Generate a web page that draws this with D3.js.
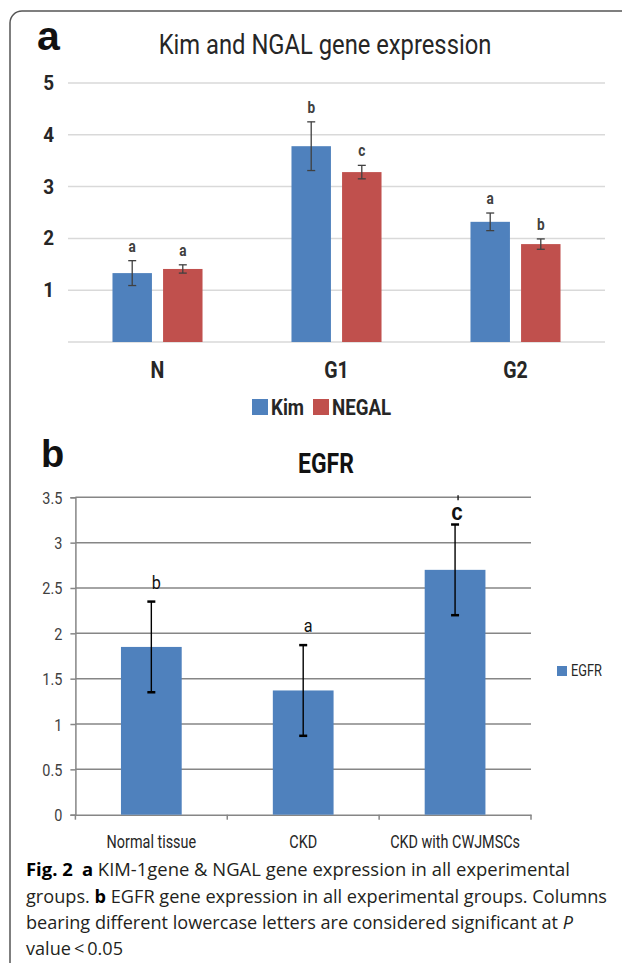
<!DOCTYPE html>
<html lang="en">
<head>
  <meta charset="UTF-8" />
  <title>Fig. 2 – Kim/NGAL and EGFR gene expression</title>
  <style>
    html, body { margin: 0; padding: 0; background: #fff; }
    svg { display: block; }
    .cond { font-family: "Roboto", "Liberation Sans", sans-serif; }
    .cap { font-family: "Open Sans", "Noto Sans", sans-serif; fill: #231f20; }
  </style>
</head>
<body>
  <script src="https://d3js.org/d3.v7.min.js"></script>
  <script>
    // Panel a data
    const groupsA = ['N', 'G1', 'G2'];
    const kimVals = [1.33, 3.78, 2.32];
    const kimErr = [0.24, 0.47, 0.17];
    const ngalVals = [1.41, 3.28, 1.89];
    const ngalErr = [0.08, 0.13, 0.10];
    const kimLetters = ['a', 'b', 'a'];
    const ngalLetters = ['a', 'c', 'b'];
    const gridA = [0, 1, 2, 3, 4, 5];
    const tickLabelsA = [1, 2, 3, 4, 5];
    const seriesA = ['Kim', 'NEGAL'];

    // Panel b data
    const groupsB = ['Normal tissue', 'CKD', 'CKD with CWJMSCs'];
    const egfrVals = [1.85, 1.37, 2.70];
    const egfrErr = [0.50, 0.50, 0.50];
    const egfrLetters = ['b', 'a', 'c'];
    const ticksB = [0, 0.5, 1, 1.5, 2, 2.5, 3, 3.5];

    const BLUE = '#4f81bd', RED = '#c0504d';

    // squeeze text horizontally (Calibri-like narrow look)
    function squeeze(sel, sx) {
      sel.each(function() {
        const t = d3.select(this);
        const x = +t.attr('x') || 0, y = +t.attr('y') || 0;
        t.attr('x', 0).attr('y', 0)
          .attr('transform', `translate(${x},${y}) scale(${sx},1)`);
      });
    }

    const svg = d3.select('body').append('svg')
      .attr('width', 622)
      .attr('height', 966);

    // frame (rounded top-left, open at bottom and right)
    svg.append('path')
      .attr('d', 'M10,963 V23 A12,12 0 0 1 22,11 H622')
      .attr('fill', 'none')
      .attr('stroke', '#555')
      .attr('stroke-width', 1.5);

    // ---------- Panel a ----------
    const a = svg.append('g');
    const yA = d3.scaleLinear().domain([0, 5]).range([342, 83]);
    const xA = d3.scaleBand().domain(groupsA).range([68, 605])
      .paddingInner(0.497).paddingOuter(0.2485);
    const xA1 = d3.scaleBand().domain(seriesA).range([0, xA.bandwidth()]).paddingInner(0.22);

    a.append('text').text('a')
      .attr('x', 37).attr('y', 50)
      .attr('font-family', 'Liberation Sans, Arial, sans-serif')
      .attr('font-weight', 'bold').attr('font-size', 41).attr('fill', '#111');

    a.append('text').text('Kim and NGAL gene expression')
      .attr('class', 'cond')
      .attr('x', 325).attr('y', 54)
      .attr('text-anchor', 'middle')
      .attr('font-size', 27).attr('fill', '#262626')
      .call(squeeze, 0.88);

    a.append('g').selectAll('line').data(gridA).join('line')
      .attr('x1', 68).attr('x2', 605)
      .attr('y1', d => yA(d)).attr('y2', d => yA(d))
      .attr('stroke', '#d9d9d9').attr('stroke-width', 1.5);

    a.append('g').selectAll('text').data(tickLabelsA).join('text')
      .attr('class', 'cond')
      .attr('x', 54).attr('y', d => yA(d) + 7)
      .attr('text-anchor', 'end')
      .attr('font-weight', 'bold').attr('font-size', 21).attr('fill', '#262626')
      .text(d => d)
      .call(squeeze, 0.9);

    const rowsA = groupsA.map((g, i) => [
      { g, s: 'Kim', v: kimVals[i], e: kimErr[i], l: kimLetters[i], c: BLUE },
      { g, s: 'NEGAL', v: ngalVals[i], e: ngalErr[i], l: ngalLetters[i], c: RED }
    ]).flat();

    const barA = a.append('g').selectAll('g').data(rowsA).join('g')
      .attr('transform', d => `translate(${xA(d.g) + xA1(d.s)},0)`);

    barA.append('rect')
      .attr('x', 0).attr('width', xA1.bandwidth())
      .attr('y', d => yA(d.v)).attr('height', d => yA(0) - yA(d.v))
      .attr('fill', d => d.c);

    const cx = xA1.bandwidth() / 2;
    barA.append('line')
      .attr('x1', cx).attr('x2', cx)
      .attr('y1', d => yA(d.v + d.e)).attr('y2', d => yA(d.v - d.e))
      .attr('stroke', '#404040').attr('stroke-width', 1.3);
    barA.selectAll('.cap').data(d => [d.v + d.e, d.v - d.e]).join('line')
      .attr('x1', cx - 4).attr('x2', cx + 4)
      .attr('y1', d => yA(d)).attr('y2', d => yA(d))
      .attr('stroke', '#404040').attr('stroke-width', 1.3);

    barA.append('text')
      .attr('class', 'cond')
      .attr('x', cx).attr('y', d => yA(d.v + d.e) - 9)
      .attr('text-anchor', 'middle')
      .attr('font-weight', 'bold').attr('font-size', 16).attr('fill', '#404040')
      .text(d => d.l)
      .call(squeeze, 0.85);

    a.append('g').selectAll('text').data(groupsA).join('text')
      .attr('class', 'cond')
      .attr('x', d => xA(d) + xA.bandwidth() / 2).attr('y', 378)
      .attr('text-anchor', 'middle')
      .attr('font-weight', 'bold').attr('font-size', 23).attr('fill', '#262626')
      .text(d => d)
      .call(squeeze, 0.85);

    // legend a
    const legA = a.append('g').attr('transform', 'translate(252,399)');
    const legItems = [{ s: 'Kim', c: BLUE, x: 0 }, { s: 'NEGAL', c: RED, x: 61 }];
    const li = legA.selectAll('g').data(legItems).join('g')
      .attr('transform', d => `translate(${d.x},0)`);
    li.append('rect').attr('width', 16).attr('height', 16).attr('fill', d => d.c);
    li.append('text')
      .attr('class', 'cond')
      .attr('x', 19).attr('y', 16)
      .attr('font-weight', 'bold').attr('font-size', 22).attr('fill', '#262626')
      .text(d => d.s)
      .call(squeeze, 0.85);

    // ---------- Panel b ----------
    const b = svg.append('g');
    const yB = d3.scaleLinear().domain([0, 3.5]).range([814.7, 497.3]);
    const xB = d3.scaleBand().domain(groupsB).range([75.4, 531])
      .paddingInner(0.6).paddingOuter(0.3);

    b.append('text').text('b')
      .attr('x', 41).attr('y', 467)
      .attr('font-family', 'Liberation Sans, Arial, sans-serif')
      .attr('font-weight', 'bold').attr('font-size', 38).attr('fill', '#111');

    b.append('text').text('EGFR')
      .attr('class', 'cond')
      .attr('x', 326).attr('y', 473)
      .attr('text-anchor', 'middle')
      .attr('font-weight', 'bold').attr('font-size', 27).attr('fill', '#111')
      .call(squeeze, 0.85);

    b.append('g').selectAll('line').data(ticksB.filter(t => t > 0)).join('line')
      .attr('x1', 75.4).attr('x2', 531)
      .attr('y1', d => yB(d)).attr('y2', d => yB(d))
      .attr('stroke', '#868686').attr('stroke-width', 1.5);

    const axisL = b.append('g')
      .attr('transform', 'translate(75.4,0)')
      .call(d3.axisLeft(yB).tickValues(ticksB).tickSize(5).tickPadding(0)
        .tickFormat(d3.format('')));
    axisL.select('.domain').attr('stroke', '#868686').attr('stroke-width', 1.5);
    axisL.selectAll('.tick line').attr('stroke', '#868686').attr('stroke-width', 1.5);
    axisL.selectAll('.tick text')
      .attr('class', 'cond')
      .attr('font-size', 17).attr('fill', '#404040')
      .attr('dy', null).attr('y', 6)
      .attr('x', -13)
      .call(squeeze, 0.85);

    const axisBot = b.append('g')
      .attr('transform', `translate(0,${yB(0)})`)
      .call(d3.axisBottom(xB).tickSize(0).tickPadding(0));
    axisBot.select('.domain').attr('stroke', '#868686').attr('stroke-width', 1.5);
    axisBot.selectAll('.tick text')
      .attr('class', 'cond')
      .attr('font-size', 18).attr('fill', '#262626')
      .attr('dy', null).attr('y', 33)
      .call(squeeze, 0.8);
    // category separators
    const seps = [...groupsB.map(g => xB(g) - xB.step() * xB.paddingInner() / 2), 531];
    b.append('g').selectAll('line').data(seps).join('line')
      .attr('x1', d => d).attr('x2', d => d)
      .attr('y1', yB(0)).attr('y2', yB(0) + 5)
      .attr('stroke', '#868686').attr('stroke-width', 1.5);

    const rowsB = groupsB.map((g, i) => ({ g, v: egfrVals[i], e: egfrErr[i], l: egfrLetters[i] }));
    const barB = b.append('g').selectAll('g').data(rowsB).join('g')
      .attr('transform', d => `translate(${xB(d.g)},0)`);
    barB.append('rect')
      .attr('width', xB.bandwidth())
      .attr('y', d => yB(d.v)).attr('height', d => yB(0) - yB(d.v))
      .attr('fill', BLUE);
    const cb = xB.bandwidth() / 2;
    barB.append('line')
      .attr('x1', cb).attr('x2', cb)
      .attr('y1', d => yB(d.v + d.e)).attr('y2', d => yB(d.v - d.e))
      .attr('stroke', '#000').attr('stroke-width', 1.4);
    barB.selectAll('.cap').data(d => [d.v + d.e, d.v - d.e]).join('line')
      .attr('x1', cb - 4).attr('x2', cb + 4)
      .attr('y1', d => yB(d)).attr('y2', d => yB(d))
      .attr('stroke', '#000').attr('stroke-width', 2.5);
    barB.append('text')
      .attr('class', d => d.l === 'c' ? null : 'cond')
      .attr('font-family', d => d.l === 'c' ? 'Liberation Sans, Arial, sans-serif' : null)
      .attr('x', d => d.l === 'c' ? cb + 2 : cb + 5)
      .attr('y', d => yB(d.v + d.e) - (d.l === 'c' ? 5 : 13))
      .attr('text-anchor', 'middle')
      .attr('font-size', d => d.l === 'c' ? 23 : 18)
      .attr('font-weight', d => d.l === 'c' ? 'bold' : null)
      .attr('fill', '#111')
      .text(d => d.l)
      .call(squeeze, 0.9);
    // small mark above "c"
    barB.filter(d => d.l === 'c').append('line')
      .attr('x1', cb + 3).attr('x2', cb + 3)
      .attr('y1', yB(3.5) - 2).attr('y2', yB(3.5) + 3)
      .attr('stroke', '#222').attr('stroke-width', 1.5);

    // legend b
    const legB = b.append('g').attr('transform', 'translate(557,666)');
    legB.append('rect').attr('width', 10).attr('height', 10).attr('fill', BLUE);
    legB.append('text').attr('class', 'cond')
      .attr('x', 14).attr('y', 10)
      .attr('font-size', 16).attr('fill', '#262626')
      .text('EGFR')
      .call(squeeze, 0.8);

    // ---------- Caption ----------
    const capLines = [
      { y: 876, w: 544, parts: [['Fig. 2', 'bold'], ['\u2002', null], ['a', 'bold'], [' KIM-1gene & NGAL gene expression in all experimental', null]] },
      { y: 903, w: 581, parts: [['groups. ', null], ['b', 'bold'], [' EGFR gene expression in all experimental groups. Columns', null]] },
      { y: 929, w: 547, parts: [['bearing different lowercase letters are considered significant at ', null], ['P', 'italic']] },
      { y: 955, w: 97, parts: [['value\u2009<\u20090.05', null]] }
    ];
    const cap = svg.append('g');
    capLines.forEach(line => {
      const t = cap.append('text').attr('class', 'cap')
        .attr('x', 26).attr('y', line.y)
        .attr('font-size', 18)
        .attr('textLength', line.w).attr('lengthAdjust', 'spacingAndGlyphs');
      line.parts.forEach(([txt, st]) => {
        const sp = t.append('tspan').text(txt);
        if (st === 'bold') sp.attr('font-weight', 'bold').attr('fill', '#000');
        if (st === 'italic') sp.attr('font-style', 'italic');
      });
    });
  </script>
</body>
</html>
